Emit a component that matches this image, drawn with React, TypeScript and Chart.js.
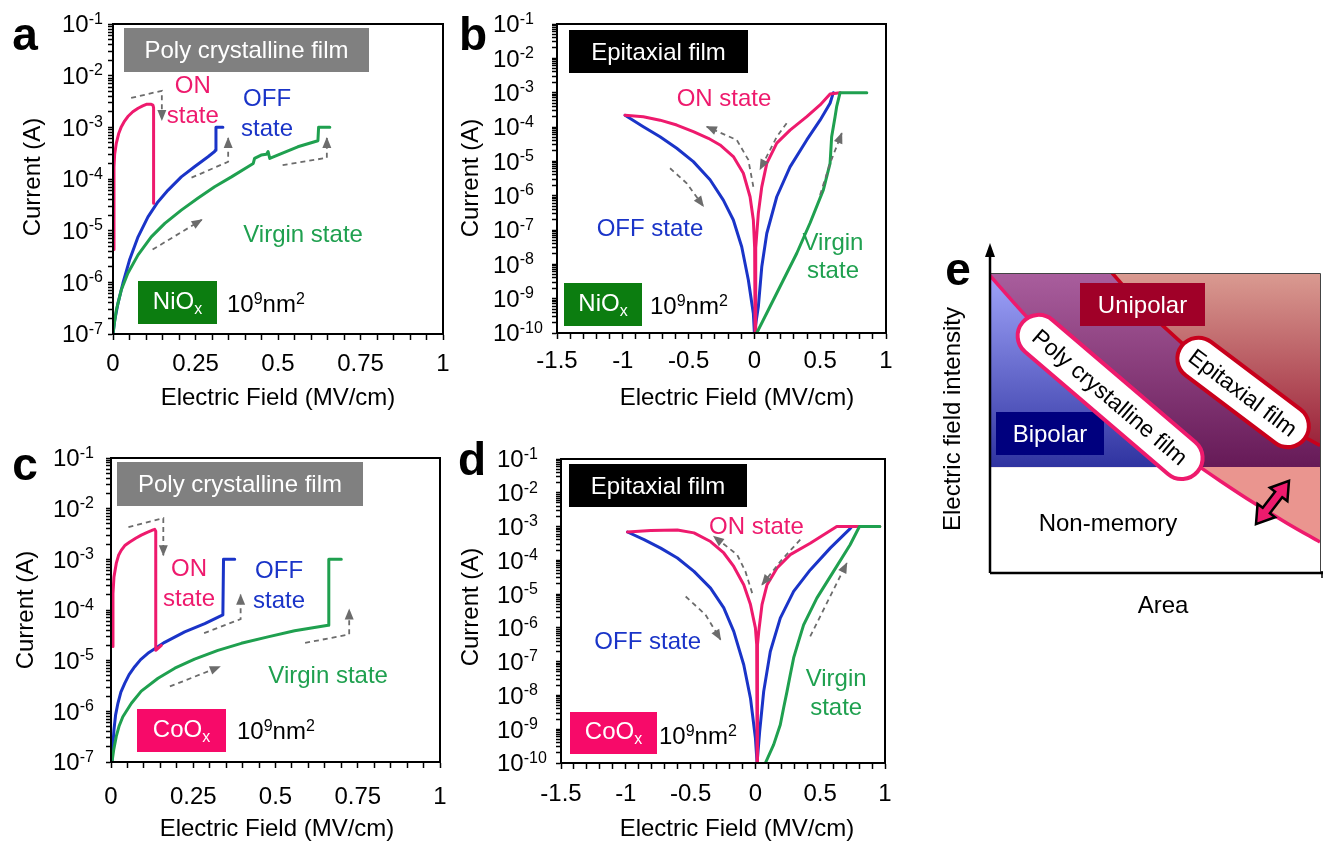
import React, { useEffect, useRef } from 'react';
import { Chart, registerables } from 'chart.js';

Chart.register(...registerables);

const FONT = '"Liberation Sans", Arial, Helvetica, sans-serif';
const PINK = '#ee1a6d';
const BLUE = '#1a34c8';
const GREEN = '#1fa04f';
const DASH = '#6c6c6c';
const NIO_GREEN = '#0c7d10';
const COO_PINK = '#f70a69';

// ===== Panel a : NiOx, poly crystalline film (x: MV/cm, y: A) =====
const aOnX = [0.003, 0.003, 0.005, 0.01, 0.017, 0.025, 0.035, 0.045, 0.06, 0.076, 0.09, 0.101, 0.116, 0.121, 0.123, 0.123];
const aOnY = [4.3e-6, 1.7e-4, 3e-4, 4.9e-4, 7.5e-4, 1.02e-3, 1.32e-3, 1.62e-3, 2.0e-3, 2.34e-3, 2.6e-3, 2.79e-3, 2.79e-3, 2.7e-3, 2.4e-3, 3.4e-5];
const aOffX = [0, 0.005, 0.015, 0.03, 0.05, 0.076, 0.106, 0.136, 0.167, 0.207, 0.247, 0.288, 0.308, 0.31, 0.312, 0.333];
const aOffY = [1e-7, 1.8e-7, 3.9e-7, 9.6e-7, 2.7e-6, 7.6e-6, 1.85e-5, 3.6e-5, 6.1e-5, 1.1e-4, 1.73e-4, 2.7e-4, 3.4e-4, 3.6e-4, 1e-3, 1e-3];
const aVirX = [0, 0.004, 0.01, 0.025, 0.045, 0.076, 0.116, 0.157, 0.207, 0.258, 0.308, 0.359, 0.409, 0.425, 0.429, 0.449, 0.465, 0.47, 0.475, 0.51, 0.56, 0.621, 0.623, 0.657];
const aVirY = [1e-7, 1.6e-7, 2.9e-7, 7.1e-7, 1.5e-6, 3.4e-6, 7.6e-6, 1.38e-5, 2.5e-5, 4.3e-5, 7.1e-5, 1.1e-4, 1.73e-4, 2.0e-4, 2.5e-4, 2.9e-4, 3.0e-4, 3.4e-4, 2.5e-4, 3.1e-4, 4.2e-4, 5.5e-4, 1e-3, 1e-3];
const aArrow1X = [0.055, 0.148, 0.148];
const aArrow1Y = [3.7e-3, 5.1e-3, 1.38e-3];
const aArrow2X = [0.238, 0.349, 0.349];
const aArrow2Y = [1.06e-4, 2.16e-4, 6.2e-4];
const aArrow3X = [0.12, 0.269];
const aArrow3Y = [4.3e-6, 1.62e-5];
const aArrow4X = [0.514, 0.648, 0.648];
const aArrow4Y = [1.86e-4, 2.57e-4, 6.2e-4];

// ===== Panel b : NiOx, epitaxial film =====
const bOnX = [-0.983, -0.844, -0.717, -0.59, -0.464, -0.35, -0.261, -0.16, -0.084, -0.033, -0.008, 0.002, 0.005, 0.01, 0.03, 0.056, 0.094, 0.17, 0.271, 0.398, 0.499, 0.575, 0.651];
const bOnY = [2.2e-4, 2e-4, 1.58e-4, 1.14e-4, 7.3e-5, 4.7e-5, 3e-5, 1.38e-5, 4.5e-6, 9.3e-7, 1.95e-7, 3e-8, 1e-10, 3e-8, 3.1e-7, 1.8e-6, 8.7e-6, 3.4e-5, 8.1e-5, 2e-4, 4.4e-4, 9.1e-4, 1e-3];
const bOffX = [-0.983, -0.844, -0.717, -0.59, -0.464, -0.337, -0.236, -0.16, -0.096, -0.046, -0.008, 0, 0.03, 0.056, 0.094, 0.17, 0.271, 0.398, 0.499, 0.575, 0.6];
const bOffY = [2.2e-4, 1.02e-4, 5.2e-5, 2.4e-5, 9.8e-6, 2.9e-6, 7.4e-7, 1.95e-7, 3.2e-8, 3.5e-9, 3.7e-10, 1e-10, 5.9e-10, 8.5e-9, 7.9e-8, 9.3e-7, 6.9e-6, 4.2e-5, 1.58e-4, 4.9e-4, 1e-3];
const bVirX = [0.018, 0.119, 0.22, 0.322, 0.423, 0.524, 0.575, 0.587, 0.613, 0.625, 0.651, 0.854];
const bVirY = [1e-10, 5.9e-10, 3.5e-9, 2.1e-8, 1.6e-7, 1.48e-6, 8.7e-6, 5.2e-5, 2e-4, 3.9e-4, 1e-3, 1e-3];
const bArrow1X = [-0.008, -0.046, -0.134, -0.362];
const bArrow1Y = [1.82e-6, 1.1e-5, 4.2e-5, 1.02e-4];
const bArrow2X = [0.245, 0.17, 0.043];
const bArrow2Y = [1.29e-4, 5.2e-5, 5.8e-6];
const bArrow3X = [-0.641, -0.514, -0.388];
const bArrow3Y = [6.3e-6, 2.3e-6, 4.9e-7];
const bArrow4X = [0.499, 0.575, 0.664];
const bArrow4Y = [1.05e-6, 8.7e-6, 6.6e-5];

// ===== Panel c : CoOx, poly crystalline film =====
const cOnX = [0.006, 0.006, 0.009, 0.016, 0.023, 0.031, 0.043, 0.057, 0.075, 0.092, 0.11, 0.128, 0.133, 0.136, 0.136, 0.153];
const cOnY = [1.9e-5, 2.1e-4, 4.5e-4, 8.3e-4, 1.2e-3, 1.5e-3, 1.9e-3, 2.2e-3, 2.6e-3, 3.0e-3, 3.4e-3, 3.8e-3, 3.9e-3, 3.6e-3, 1.6e-5, 2e-5];
const cOffX = [0.003, 0.005, 0.009, 0.014, 0.021, 0.03, 0.042, 0.055, 0.072, 0.09, 0.112, 0.163, 0.224, 0.285, 0.34, 0.342, 0.376];
const cOffY = [1e-7, 1.8e-7, 4.3e-7, 8.5e-7, 1.44e-6, 2.4e-6, 3.6e-6, 5.3e-6, 7.6e-6, 1.05e-5, 1.4e-5, 2.3e-5, 3.7e-5, 5.4e-5, 8e-5, 1e-3, 1e-3];
const cVirX = [0.003, 0.008, 0.016, 0.025, 0.036, 0.062, 0.092, 0.143, 0.194, 0.254, 0.325, 0.396, 0.477, 0.558, 0.66, 0.662, 0.7];
const cVirY = [1e-7, 1.7e-7, 3.2e-7, 5.2e-7, 7.8e-7, 1.44e-6, 2.5e-6, 4.5e-6, 7.1e-6, 1.07e-5, 1.6e-5, 2.2e-5, 2.95e-5, 3.9e-5, 5e-5, 1e-3, 1e-3];
const cArrow1X = [0.053, 0.159, 0.159];
const cArrow1Y = [4.3e-3, 6.5e-3, 1.2e-3];
const cArrow2X = [0.283, 0.394, 0.394];
const cArrow2Y = [3.5e-5, 6.6e-5, 2e-4];
const cArrow3X = [0.179, 0.331];
const cArrow3Y = [3.1e-6, 7.6e-6];
const cArrow4X = [0.59, 0.724, 0.724];
const cArrow4Y = [2.24e-5, 3.3e-5, 1.02e-4];

// ===== Panel d : CoOx, epitaxial film =====
const dOnX = [-0.987, -0.808, -0.602, -0.474, -0.346, -0.244, -0.167, -0.09, -0.038, 0, 0.01, 0.013, 0.016, 0.026, 0.051, 0.09, 0.167, 0.269, 0.423, 0.628, 0.96];
const dOnY = [6.9e-4, 7.6e-4, 7.9e-4, 6.5e-4, 3.6e-4, 1.65e-4, 6.6e-5, 1.9e-5, 4.9e-6, 1e-6, 3.2e-7, 1e-10, 3.2e-7, 7.9e-7, 4.9e-6, 1.9e-5, 5.9e-5, 1.48e-4, 3.2e-4, 1e-3, 1e-3];
const dOffX = [-0.987, -0.859, -0.731, -0.602, -0.474, -0.346, -0.244, -0.167, -0.09, -0.038, 0, 0.013, 0.033, 0.064, 0.115, 0.192, 0.295, 0.423, 0.577, 0.731, 0.744];
const dOffY = [6.9e-4, 4.1e-4, 2.3e-4, 1.17e-4, 4.7e-5, 1.5e-5, 3.9e-6, 7.9e-7, 8.1e-8, 8.3e-9, 5.5e-10, 1e-10, 8.7e-10, 1.32e-8, 2e-7, 1.95e-6, 1.2e-5, 5.2e-5, 2.3e-4, 8.7e-4, 1e-3];
const dVirX = [0.077, 0.141, 0.192, 0.218, 0.244, 0.269, 0.295, 0.333, 0.372, 0.474, 0.603, 0.731, 0.803, 0.96];
const dVirY = [1e-10, 3.5e-10, 1.35e-9, 4.3e-9, 1.32e-8, 4.1e-8, 1.29e-7, 4e-7, 1.23e-6, 7.6e-6, 4.7e-5, 2.9e-4, 1e-3, 1e-3];
const dArrow1X = [-0.025, -0.077, -0.141, -0.321];
const dArrow1Y = [1.07e-5, 4.7e-5, 1.48e-4, 5.1e-4];
const dArrow2X = [0.346, 0.2, 0.051];
const dArrow2Y = [4.1e-4, 1.0e-4, 1.9e-5];
const dArrow3X = [-0.538, -0.385, -0.269];
const dArrow3Y = [8.5e-6, 2.45e-6, 4.5e-7];
const dArrow4X = [0.423, 0.705];
const dArrow4Y = [5.6e-7, 8.3e-5];

// ===== Panel e : schematic (area vs electric field intensity, normalized 0..1) =====
const ePolyX = [0, 0.1, 0.2, 0.3, 0.4, 0.5, 0.6, 0.7, 0.8, 0.9, 1.0];
const ePolyY = [0.991, 0.867, 0.753, 0.649, 0.553, 0.464, 0.381, 0.305, 0.233, 0.166, 0.103];
const eEpiX = [0.37, 0.45, 0.515, 0.6, 0.7, 0.8, 0.9, 0.96, 1.0];
const eEpiY = [1.0, 0.9, 0.833, 0.748, 0.657, 0.575, 0.497, 0.449, 0.425];
const eBoundary = 0.353;
const eArrowX = [0.806, 0.906];
const eArrowY = [0.163, 0.307];

// ---------------------------------------------------------------
type Part = { t: string; s?: 'sup' | 'sub' };
type Series = { x: number[]; y: number[]; color: string };
type Label = { text: string; x: number; y: number; color: string };
type Box = { x: number; y: number; w: number; h: number; fill: string };
type PanelCfg = {
  letter: string; letterX: number; letterY: number;
  ox: number; oy: number; w: number; h: number;
  area: { l: number; t: number; r: number; b: number };
  xMin: number; xMax: number; xStep: number; xLabelVals: number[]; xLabelY: number;
  yMinExp: number; yMaxExp: number; yLabelX: number;
  series: Series[]; arrows: { x: number[]; y: number[] }[]; labels: Label[];
  film: Box & { text: string }; oxide: Box & { name: string }; areaTextX: number; areaTextY: number;
  xTitle: [number, number]; yTitle: [number, number];
};

function drawParts(ctx: CanvasRenderingContext2D, parts: Part[], x: number, cy: number, size: number, color: string, align: 'left' | 'center') {
  const small = Math.round(size * 0.66);
  const fN = `${size}px ${FONT}`;
  const fS = `${small}px ${FONT}`;
  let total = 0;
  const widths = parts.map((p) => {
    ctx.font = p.s ? fS : fN;
    const w = ctx.measureText(p.t).width;
    total += w;
    return w;
  });
  let cx = align === 'center' ? x - total / 2 : x;
  const base = cy + size * 0.35;
  ctx.fillStyle = color;
  ctx.textAlign = 'left';
  ctx.textBaseline = 'alphabetic';
  parts.forEach((p, i) => {
    ctx.font = p.s ? fS : fN;
    const by = p.s === 'sup' ? base - size * 0.36 : p.s === 'sub' ? base + size * 0.2 : base;
    ctx.fillText(p.t, cx, by);
    cx += widths[i];
  });
}

function drawHead(ctx: CanvasRenderingContext2D, x0: number, y0: number, x1: number, y1: number, color: string) {
  const a = Math.atan2(y1 - y0, x1 - x0);
  const L = 10, W = 4.5;
  ctx.save();
  ctx.translate(x1, y1);
  ctx.rotate(a);
  ctx.beginPath();
  ctx.moveTo(1, 0);
  ctx.lineTo(-L, W);
  ctx.lineTo(-L, -W);
  ctx.closePath();
  ctx.fillStyle = color;
  ctx.fill();
  ctx.restore();
}

function fmt(v: number) {
  const r = Math.round(v * 1000) / 1000;
  return String(r);
}

function buildIV(canvas: HTMLCanvasElement, p: PanelCfg) {
  const toXY = (xs: number[], ys: number[]) => xs.map((x, i) => ({ x, y: ys[i] }));
  const datasets: any[] = [];
  p.arrows.forEach((a) =>
    datasets.push({ data: toXY(a.x, a.y), borderColor: DASH, borderWidth: 1.8, borderDash: [5, 4], pointRadius: 0, arrowHead: true, fill: false })
  );
  p.series.forEach((s) =>
    datasets.push({ data: toXY(s.x, s.y), borderColor: s.color, borderWidth: 3, pointRadius: 0, borderJoinStyle: 'round', borderCapStyle: 'round', fill: false })
  );
  const xTicks: number[] = [];
  const nX = Math.round((p.xMax - p.xMin) / p.xStep);
  for (let i = 0; i <= nX; i++) xTicks.push(p.xMin + i * p.xStep);
  const yTicks: number[] = [];
  for (let e = p.yMinExp; e < p.yMaxExp; e++) for (let k = 1; k <= 9; k++) yTicks.push(k * Math.pow(10, e));
  yTicks.push(Math.pow(10, p.yMaxExp));
  const X = (v: number) => v - p.ox;
  const Y = (v: number) => v - p.oy;

  const plugin = {
    id: 'iv' + p.letter,
    afterDatasetsDraw(chart: any) {
      const ctx: CanvasRenderingContext2D = chart.ctx;
      const xs = chart.scales.x, ys = chart.scales.y;
      chart.data.datasets.forEach((ds: any, i: number) => {
        if (!ds.arrowHead) return;
        const pts = chart.getDatasetMeta(i).data;
        const a = pts[pts.length - 2], b = pts[pts.length - 1];
        drawHead(ctx, a.x, a.y, b.x, b.y, DASH);
      });
      const { left, top, right, bottom } = chart.chartArea;
      ctx.save();
      ctx.strokeStyle = '#000';
      ctx.lineWidth = 2;
      ctx.strokeRect(left, top, right - left, bottom - top);
      for (let e = p.yMinExp; e <= p.yMaxExp; e++) {
        const py = ys.getPixelForValue(Math.pow(10, e));
        drawParts(ctx, [{ t: '10' }, { t: String(e), s: 'sup' }], X(p.yLabelX), py, 24, '#000', 'left');
      }
      p.xLabelVals.forEach((v) => {
        const px = xs.getPixelForValue(v);
        drawParts(ctx, [{ t: fmt(v) }], px, Y(p.xLabelY), 24, '#000', 'center');
      });
      drawParts(ctx, [{ t: 'Electric Field (MV/cm)' }], X(p.xTitle[0]), Y(p.xTitle[1]), 24, '#000', 'center');
      ctx.save();
      ctx.translate(X(p.yTitle[0]), Y(p.yTitle[1]));
      ctx.rotate(-Math.PI / 2);
      drawParts(ctx, [{ t: 'Current (A)' }], 0, 0, 24, '#000', 'center');
      ctx.restore();
      ctx.font = `bold 46px ${FONT}`;
      ctx.fillStyle = '#000';
      ctx.textAlign = 'center';
      ctx.textBaseline = 'middle';
      ctx.fillText(p.letter, X(p.letterX), Y(p.letterY));
      const f = p.film;
      ctx.fillStyle = f.fill;
      ctx.fillRect(X(f.x), Y(f.y), f.w, f.h);
      drawParts(ctx, [{ t: f.text }], X(f.x + f.w / 2), Y(f.y + f.h / 2), 24, '#fff', 'center');
      const o = p.oxide;
      ctx.fillStyle = o.fill;
      ctx.fillRect(X(o.x), Y(o.y), o.w, o.h);
      drawParts(ctx, [{ t: o.name }, { t: 'x', s: 'sub' }], X(o.x + o.w / 2), Y(o.y + o.h / 2 - 2), 24, '#fff', 'center');
      drawParts(ctx, [{ t: '10' }, { t: '9', s: 'sup' }, { t: 'nm' }, { t: '2', s: 'sup' }], X(p.areaTextX), Y(p.areaTextY), 24, '#000', 'left');
      p.labels.forEach((l) => {
        drawParts(ctx, [{ t: l.text }], xs.getPixelForValue(l.x), ys.getPixelForValue(l.y), 24, l.color, 'center');
      });
      ctx.restore();
    },
  };

  const tickGrid = { display: true, drawOnChartArea: false, drawTicks: true, tickLength: 6, tickWidth: 1.5, tickColor: '#000' };
  return new Chart(canvas, {
    type: 'line',
    data: { datasets },
    options: {
      responsive: false,
      animation: false,
      devicePixelRatio: 1,
      events: [],
      layout: { autoPadding: false, padding: { left: 0, top: p.area.t, right: p.w - p.area.r, bottom: 0 } },
      plugins: { legend: { display: false }, tooltip: { enabled: false }, title: { display: false } },
      scales: {
        x: {
          type: 'linear', position: 'bottom', min: p.xMin, max: p.xMax,
          afterBuildTicks: (s: any) => { s.ticks = xTicks.map((v) => ({ value: v })); },
          afterFit: (s: any) => { s.height = p.h - p.area.b; },
          ticks: { display: false },
          grid: tickGrid,
          border: { display: true, color: '#000', width: 2 },
        },
        y: {
          type: 'logarithmic', position: 'left', min: Math.pow(10, p.yMinExp), max: Math.pow(10, p.yMaxExp),
          afterBuildTicks: (s: any) => { s.ticks = yTicks.map((v) => ({ value: v })); },
          afterFit: (s: any) => { s.width = p.area.l; },
          ticks: { display: false },
          grid: { ...tickGrid, tickLength: 5 },
          border: { display: true, color: '#000', width: 2 },
        },
      },
    } as any,
    plugins: [plugin],
  });
}

const panelA: PanelCfg = {
  letter: 'a', letterX: 25, letterY: 37,
  ox: 0, oy: 0, w: 450, h: 420,
  area: { l: 113, t: 24, r: 443, b: 334 },
  xMin: 0, xMax: 1, xStep: 0.05, xLabelVals: [0, 0.25, 0.5, 0.75, 1], xLabelY: 363,
  yMinExp: -7, yMaxExp: -1, yLabelX: 62,
  series: [
    { x: aOnX, y: aOnY, color: PINK },
    { x: aVirX, y: aVirY, color: GREEN },
    { x: aOffX, y: aOffY, color: BLUE },
  ],
  arrows: [
    { x: aArrow1X, y: aArrow1Y }, { x: aArrow2X, y: aArrow2Y }, { x: aArrow3X, y: aArrow3Y }, { x: aArrow4X, y: aArrow4Y },
  ],
  labels: [
    { text: 'ON', x: 0.242, y: 6.6e-3, color: PINK },
    { text: 'state', x: 0.242, y: 1.74e-3, color: PINK },
    { text: 'OFF', x: 0.467, y: 3.7e-3, color: BLUE },
    { text: 'state', x: 0.467, y: 9.8e-4, color: BLUE },
    { text: 'Virgin state', x: 0.576, y: 8.9e-6, color: GREEN },
  ],
  film: { x: 124, y: 28, w: 245, h: 44, fill: '#808080', text: 'Poly crystalline film' },
  oxide: { x: 138, y: 281, w: 79, h: 43, fill: NIO_GREEN, name: 'NiO' },
  areaTextX: 227, areaTextY: 304,
  xTitle: [278, 397], yTitle: [32, 177],
};

const panelB: PanelCfg = {
  letter: 'b', letterX: 473, letterY: 37,
  ox: 445, oy: 0, w: 450, h: 420,
  area: { l: 112, t: 24, r: 441, b: 333 },
  xMin: -1.5, xMax: 1, xStep: 0.1, xLabelVals: [-1.5, -1, -0.5, 0, 0.5, 1], xLabelY: 360,
  yMinExp: -10, yMaxExp: -1, yLabelX: 493,
  series: [
    { x: bVirX, y: bVirY, color: GREEN },
    { x: bOnX, y: bOnY, color: PINK },
    { x: bOffX, y: bOffY, color: BLUE },
  ],
  arrows: [
    { x: bArrow1X, y: bArrow1Y }, { x: bArrow2X, y: bArrow2Y }, { x: bArrow3X, y: bArrow3Y }, { x: bArrow4X, y: bArrow4Y },
  ],
  labels: [
    { text: 'ON state', x: -0.231, y: 7.4e-4, color: PINK },
    { text: 'OFF state', x: -0.793, y: 1.15e-7, color: BLUE },
    { text: 'Virgin', x: 0.597, y: 4.5e-8, color: GREEN },
    { text: 'state', x: 0.597, y: 6.9e-9, color: GREEN },
  ],
  film: { x: 569, y: 30, w: 179, h: 43, fill: '#000000', text: 'Epitaxial film' },
  oxide: { x: 564, y: 283, w: 78, h: 43, fill: NIO_GREEN, name: 'NiO' },
  areaTextX: 650, areaTextY: 306,
  xTitle: [737, 397], yTitle: [470, 178],
};

const panelC: PanelCfg = {
  letter: 'c', letterX: 25, letterY: 467,
  ox: 0, oy: 420, w: 450, h: 422,
  area: { l: 111, t: 38, r: 440, b: 342 },
  xMin: 0, xMax: 1, xStep: 0.05, xLabelVals: [0, 0.25, 0.5, 0.75, 1], xLabelY: 796,
  yMinExp: -7, yMaxExp: -1, yLabelX: 53,
  series: [
    { x: cOnX, y: cOnY, color: PINK },
    { x: cVirX, y: cVirY, color: GREEN },
    { x: cOffX, y: cOffY, color: BLUE },
  ],
  arrows: [
    { x: cArrow1X, y: cArrow1Y }, { x: cArrow2X, y: cArrow2Y }, { x: cArrow3X, y: cArrow3Y }, { x: cArrow4X, y: cArrow4Y },
  ],
  labels: [
    { text: 'ON', x: 0.237, y: 6.8e-4, color: PINK },
    { text: 'state', x: 0.237, y: 1.74e-4, color: PINK },
    { text: 'OFF', x: 0.511, y: 6.2e-4, color: BLUE },
    { text: 'state', x: 0.511, y: 1.58e-4, color: BLUE },
    { text: 'Virgin state', x: 0.66, y: 5.2e-6, color: GREEN },
  ],
  film: { x: 117, y: 462, w: 246, h: 44, fill: '#808080', text: 'Poly crystalline film' },
  oxide: { x: 137, y: 709, w: 89, h: 43, fill: COO_PINK, name: 'CoO' },
  areaTextX: 237, areaTextY: 731,
  xTitle: [277, 828], yTitle: [25, 610],
};

const panelD: PanelCfg = {
  letter: 'd', letterX: 472, letterY: 462,
  ox: 445, oy: 420, w: 450, h: 422,
  area: { l: 116, t: 39, r: 440, b: 343 },
  xMin: -1.5, xMax: 1, xStep: 0.1, xLabelVals: [-1.5, -1, -0.5, 0, 0.5, 1], xLabelY: 793,
  yMinExp: -10, yMaxExp: -1, yLabelX: 497,
  series: [
    { x: dVirX, y: dVirY, color: GREEN },
    { x: dOnX, y: dOnY, color: PINK },
    { x: dOffX, y: dOffY, color: BLUE },
  ],
  arrows: [
    { x: dArrow1X, y: dArrow1Y }, { x: dArrow2X, y: dArrow2Y }, { x: dArrow3X, y: dArrow3Y }, { x: dArrow4X, y: dArrow4Y },
  ],
  labels: [
    { text: 'ON state', x: 0.008, y: 1.07e-3, color: PINK },
    { text: 'OFF state', x: -0.831, y: 4.2e-7, color: BLUE },
    { text: 'Virgin', x: 0.623, y: 3.4e-8, color: GREEN },
    { text: 'state', x: 0.623, y: 4.7e-9, color: GREEN },
  ],
  film: { x: 569, y: 464, w: 178, h: 43, fill: '#000000', text: 'Epitaxial film' },
  oxide: { x: 570, y: 712, w: 87, h: 42, fill: COO_PINK, name: 'CoO' },
  areaTextX: 659, areaTextY: 736,
  xTitle: [737, 828], yTitle: [470, 607],
};

function IVPanel({ cfg }: { cfg: PanelCfg }) {
  const ref = useRef<HTMLCanvasElement>(null);
  useEffect(() => {
    const chart = buildIV(ref.current as HTMLCanvasElement, cfg);
    return () => chart.destroy();
  }, [cfg]);
  return <canvas ref={ref} width={cfg.w} height={cfg.h} style={{ position: 'absolute', left: cfg.ox, top: cfg.oy, width: cfg.w, height: cfg.h }} />;
}

// ---------------- Panel e ----------------
const E_OX = 895, E_OY = 0, E_W = 429, E_H = 842;
const E_AREA = { l: 990, t: 273, r: 1320, b: 573 };

function pill(ctx: CanvasRenderingContext2D, cx: number, cy: number, len: number, th: number, ang: number, stroke: string, text: string) {
  ctx.save();
  ctx.translate(cx, cy);
  ctx.rotate((ang * Math.PI) / 180);
  const r = th / 2, hl = len / 2;
  ctx.beginPath();
  ctx.moveTo(-hl + r, -r);
  ctx.lineTo(hl - r, -r);
  ctx.arc(hl - r, 0, r, -Math.PI / 2, Math.PI / 2);
  ctx.lineTo(-hl + r, r);
  ctx.arc(-hl + r, 0, r, Math.PI / 2, (3 * Math.PI) / 2);
  ctx.closePath();
  ctx.fillStyle = '#fff';
  ctx.fill();
  ctx.lineWidth = 4;
  ctx.strokeStyle = stroke;
  ctx.stroke();
  drawParts(ctx, [{ t: text }], 0, 0, 23, '#000', 'center');
  ctx.restore();
}

function doubleArrow(ctx: CanvasRenderingContext2D, x1: number, y1: number, x2: number, y2: number) {
  const dx = x2 - x1, dy = y2 - y1, L = Math.hypot(dx, dy);
  const ux = dx / L, uy = dy / L, nx = -uy, ny = ux;
  const hl = 17, hw = 11, sw = 4.5;
  const P = (b: number, n: number, fromEnd: boolean) => {
    const bx = fromEnd ? x2 - ux * b : x1 + ux * b;
    const by = fromEnd ? y2 - uy * b : y1 + uy * b;
    return [bx + nx * n, by + ny * n];
  };
  const pts = [
    [x1, y1], P(hl, hw, false), P(hl, sw, false), P(hl, sw, true), P(hl, hw, true),
    [x2, y2], P(hl, -hw, true), P(hl, -sw, true), P(hl, -sw, false), P(hl, -hw, false),
  ];
  ctx.beginPath();
  pts.forEach(([x, y], i) => (i ? ctx.lineTo(x, y) : ctx.moveTo(x, y)));
  ctx.closePath();
  ctx.fillStyle = PINK;
  ctx.fill();
  ctx.lineWidth = 2.5;
  ctx.strokeStyle = '#000';
  ctx.lineJoin = 'miter';
  ctx.stroke();
}

function buildE(canvas: HTMLCanvasElement) {
  const X = (v: number) => v - E_OX;
  const Y = (v: number) => v - E_OY;
  const plugin = {
    id: 'panelE',
    beforeDatasetsDraw(chart: any) {
      const ctx: CanvasRenderingContext2D = chart.ctx;
      const xs = chart.scales.x, ys = chart.scales.y;
      const { left, right, top, bottom } = chart.chartArea;
      const yb = ys.getPixelForValue(eBoundary);
      const poly = ePolyX.map((x, i) => [xs.getPixelForValue(x), ys.getPixelForValue(ePolyY[i])]);
      const epi = eEpiX.map((x, i) => [xs.getPixelForValue(x), ys.getPixelForValue(eEpiY[i])]);
      ctx.save();
      let g = ctx.createLinearGradient(0, top, 0, yb);
      g.addColorStop(0, '#a95e9d');
      g.addColorStop(1, '#661a57');
      ctx.fillStyle = g;
      ctx.fillRect(left, top, right - left, yb - top);
      ctx.save();
      ctx.beginPath();
      ctx.rect(left, top, right - left, yb - top);
      ctx.clip();
      ctx.beginPath();
      ctx.moveTo(left, bottom);
      poly.forEach(([x, y]) => ctx.lineTo(x, y));
      ctx.lineTo(right, bottom);
      ctx.closePath();
      g = ctx.createLinearGradient(0, top, 0, yb);
      g.addColorStop(0, '#a1a5fb');
      g.addColorStop(1, '#2f33a0');
      ctx.fillStyle = g;
      ctx.fill();
      ctx.restore();
      ctx.beginPath();
      ctx.moveTo(epi[0][0], top);
      epi.forEach(([x, y]) => ctx.lineTo(x, y));
      ctx.lineTo(right, top);
      ctx.closePath();
      g = ctx.createLinearGradient(0, top, 0, yb);
      g.addColorStop(0, '#da9b91');
      g.addColorStop(1, '#93132f');
      ctx.fillStyle = g;
      ctx.fill();
      ctx.save();
      ctx.beginPath();
      ctx.rect(left, yb, right - left, bottom - yb);
      ctx.clip();
      ctx.beginPath();
      ctx.moveTo(left, top);
      poly.forEach(([x, y]) => ctx.lineTo(x, y));
      ctx.lineTo(right, top);
      ctx.closePath();
      ctx.fillStyle = '#ea958f';
      ctx.fill();
      ctx.restore();
      ctx.restore();
    },
    afterDatasetsDraw(chart: any) {
      const ctx: CanvasRenderingContext2D = chart.ctx;
      const xs = chart.scales.x, ys = chart.scales.y;
      const { left, right, top, bottom } = chart.chartArea;
      ctx.save();
      ctx.strokeStyle = '#444';
      ctx.lineWidth = 1;
      ctx.beginPath();
      ctx.moveTo(left, top + 0.5);
      ctx.lineTo(right + 0.5, top + 0.5);
      ctx.lineTo(right + 0.5, bottom);
      ctx.stroke();
      ctx.strokeStyle = '#000';
      ctx.lineWidth = 2.5;
      ctx.beginPath();
      ctx.moveTo(left, bottom);
      ctx.lineTo(right + 3, bottom);
      ctx.moveTo(left, bottom);
      ctx.lineTo(left, Y(254));
      ctx.stroke();
      ctx.lineWidth = 1.5;
      ctx.beginPath();
      ctx.moveTo(right + 2, bottom - 2);
      ctx.lineTo(right + 2, bottom + 5);
      ctx.stroke();
      ctx.beginPath();
      ctx.moveTo(left, Y(243));
      ctx.lineTo(left + 5, Y(257));
      ctx.lineTo(left - 5, Y(257));
      ctx.closePath();
      ctx.fillStyle = '#000';
      ctx.fill();
      ctx.fillStyle = '#a00028';
      ctx.fillRect(X(1080), Y(283), 125, 43);
      drawParts(ctx, [{ t: 'Unipolar' }], X(1142.5), Y(304.5), 24, '#fff', 'center');
      ctx.fillStyle = '#00007e';
      ctx.fillRect(X(996), Y(412), 108, 43);
      drawParts(ctx, [{ t: 'Bipolar' }], X(1050), Y(433.5), 24, '#fff', 'center');
      drawParts(ctx, [{ t: 'Non-memory' }], X(1108), Y(523), 24, '#000', 'center');
      pill(ctx, xs.getPixelForValue(0.364), ys.getPixelForValue(0.587), 230, 42, 40.5, PINK, 'Poly crystalline film');
      pill(ctx, xs.getPixelForValue(0.767), ys.getPixelForValue(0.602), 154, 42, 37, '#c8001c', 'Epitaxial film');
      doubleArrow(ctx, xs.getPixelForValue(eArrowX[0]), ys.getPixelForValue(eArrowY[0]), xs.getPixelForValue(eArrowX[1]), ys.getPixelForValue(eArrowY[1]));
      drawParts(ctx, [{ t: 'Area' }], X(1163), Y(605), 24, '#000', 'center');
      ctx.save();
      ctx.translate(X(952), Y(419));
      ctx.rotate(-Math.PI / 2);
      drawParts(ctx, [{ t: 'Electric field intensity' }], 0, 0, 24, '#000', 'center');
      ctx.restore();
      ctx.font = `bold 46px ${FONT}`;
      ctx.fillStyle = '#000';
      ctx.textAlign = 'center';
      ctx.textBaseline = 'middle';
      ctx.fillText('e', X(958), Y(272));
      ctx.restore();
    },
  };
  return new Chart(canvas, {
    type: 'line',
    data: {
      datasets: [
        { data: eEpiX.map((x, i) => ({ x, y: eEpiY[i] })), borderColor: '#c8001c', borderWidth: 3.5, pointRadius: 0, fill: false },
        { data: ePolyX.map((x, i) => ({ x, y: ePolyY[i] })), borderColor: PINK, borderWidth: 3.5, pointRadius: 0, fill: false, cubicInterpolationMode: 'monotone' },
      ],
    },
    options: {
      responsive: false,
      animation: false,
      devicePixelRatio: 1,
      events: [],
      layout: { autoPadding: false, padding: { left: E_AREA.l - E_OX, top: E_AREA.t - E_OY, right: E_OX + E_W - E_AREA.r, bottom: E_OY + E_H - E_AREA.b } },
      plugins: { legend: { display: false }, tooltip: { enabled: false } },
      scales: {
        x: { type: 'linear', min: 0, max: 1, display: false },
        y: { type: 'linear', min: 0, max: 1, display: false },
      },
    } as any,
    plugins: [plugin],
  });
}

function PanelE() {
  const ref = useRef<HTMLCanvasElement>(null);
  useEffect(() => {
    const chart = buildE(ref.current as HTMLCanvasElement);
    return () => chart.destroy();
  }, []);
  return <canvas ref={ref} width={E_W} height={E_H} style={{ position: 'absolute', left: E_OX, top: E_OY, width: E_W, height: E_H }} />;
}

export default function App() {
  return (
    <div style={{ position: 'fixed', left: 0, top: 0, width: 1324, height: 842, background: '#fff', overflow: 'hidden' }}>
      <IVPanel cfg={panelA} />
      <IVPanel cfg={panelB} />
      <IVPanel cfg={panelC} />
      <IVPanel cfg={panelD} />
      <PanelE />
    </div>
  );
}
